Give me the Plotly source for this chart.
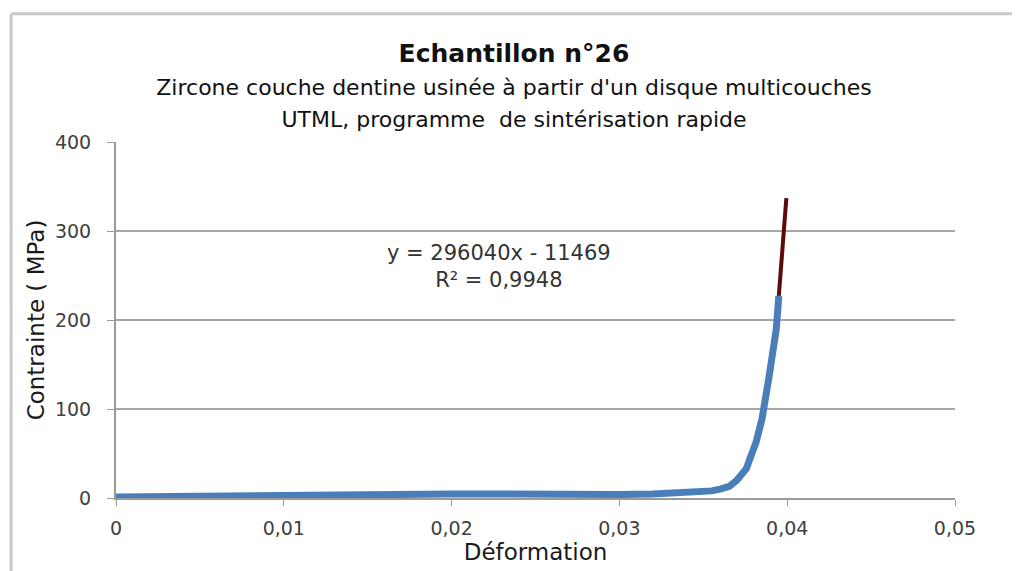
import plotly.graph_objects as go

# courbe contrainte / déformation
deformation = [0, 0.002, 0.004, 0.006, 0.007, 0.008, 0.010, 0.012, 0.014, 0.016, 0.018,
               0.020, 0.022, 0.024, 0.026, 0.028, 0.030, 0.032, 0.033, 0.034, 0.035,
               0.0355, 0.0360, 0.03655, 0.0370, 0.03756, 0.03815, 0.0385, 0.0389,
               0.03935, 0.0395]
contrainte = [1, 1.5, 2, 2, 2.5, 3.5, 3.5, 3.5, 4, 4, 4.5,
              4.5, 4.5, 4, 4.5, 4, 4, 4.5, 5, 6, 7,
              8, 10, 13, 20, 33, 63, 89, 134,
              190, 227]

# partie linéaire (courbe de tendance)
deformation_lin = [0.0395, 0.0397, 0.03995]
contrainte_lin = [227, 280, 337]

x_ticks = [0, 0.01, 0.02, 0.03, 0.04, 0.05]
x_labels = ["0", "0,01", "0,02", "0,03", "0,04", "0,05"]
y_ticks = [0, 100, 200, 300, 400]

police = "DejaVu Sans, Arial, sans-serif"

fig = go.Figure()
fig.add_trace(go.Scatter(x=deformation, y=contrainte, mode="lines",
                         line=dict(color="#4a7ebb", width=7), showlegend=False))
fig.add_trace(go.Scatter(x=deformation_lin, y=contrainte_lin, mode="lines",
                         line=dict(color="#5c0b0b", width=4), showlegend=False))

fig.update_xaxes(range=[0, 0.05], tickvals=x_ticks, ticktext=x_labels,
                 showgrid=False, zeroline=False, showline=True, linecolor="#9a9a9a",
                 linewidth=2, ticks="outside", tickcolor="#9a9a9a", ticklen=6,
                 ticklabelstandoff=6,
                 tickfont=dict(size=19, color="#404040", family=police),
                 title=dict(text="Déformation", standoff=4,
                            font=dict(size=23, color="#1a1a1a", family=police)))
fig.update_yaxes(range=[0, 400], tickvals=y_ticks, showgrid=True, gridcolor="#a6a6a6",
                 gridwidth=2, zeroline=False, showline=True, linecolor="#9a9a9a",
                 linewidth=2, ticks="outside", tickcolor="#9a9a9a", ticklen=7,
                 ticklabelstandoff=12,
                 tickfont=dict(size=19, color="#404040", family=police),
                 title=dict(text="Contrainte ( MPa)", standoff=4,
                            font=dict(size=23, color="#1a1a1a", family=police)))

fig.add_annotation(x=0.0228, y=260, xref="x", yref="y", showarrow=False,
                   text="y = 296040x - 11469<br>R² = 0,9948",
                   font=dict(size=21, color="#333333", family=police))

fig.update_layout(
    width=1012, height=563,
    margin=dict(l=108, r=65, t=134, b=71),
    paper_bgcolor="white", plot_bgcolor="white",
    title=dict(text="<b>Echantillon n°26</b><br><span style='font-size:22px'>"
                    "Zircone couche dentine usinée à partir d'un disque multicouches<br>"
                    "UTML, programme  de sintérisation rapide</span>",
               x=0.5, xanchor="center", y=0.904, yanchor="top",
               font=dict(size=25, color="#111111", family=police)),
)

# bordure du cadre (gauche et haut seulement visibles)
bord = dict(color="#c8c8c8", width=3)
fig.add_shape(type="line", xref="paper", yref="paper", x0=-0.125, x1=-0.125,
              y0=-0.3, y1=1.36, line=bord)
fig.add_shape(type="line", xref="paper", yref="paper", x0=-0.125, x1=1.3,
              y0=1.36, y1=1.36, line=bord)

fig.write_html("out.html")
